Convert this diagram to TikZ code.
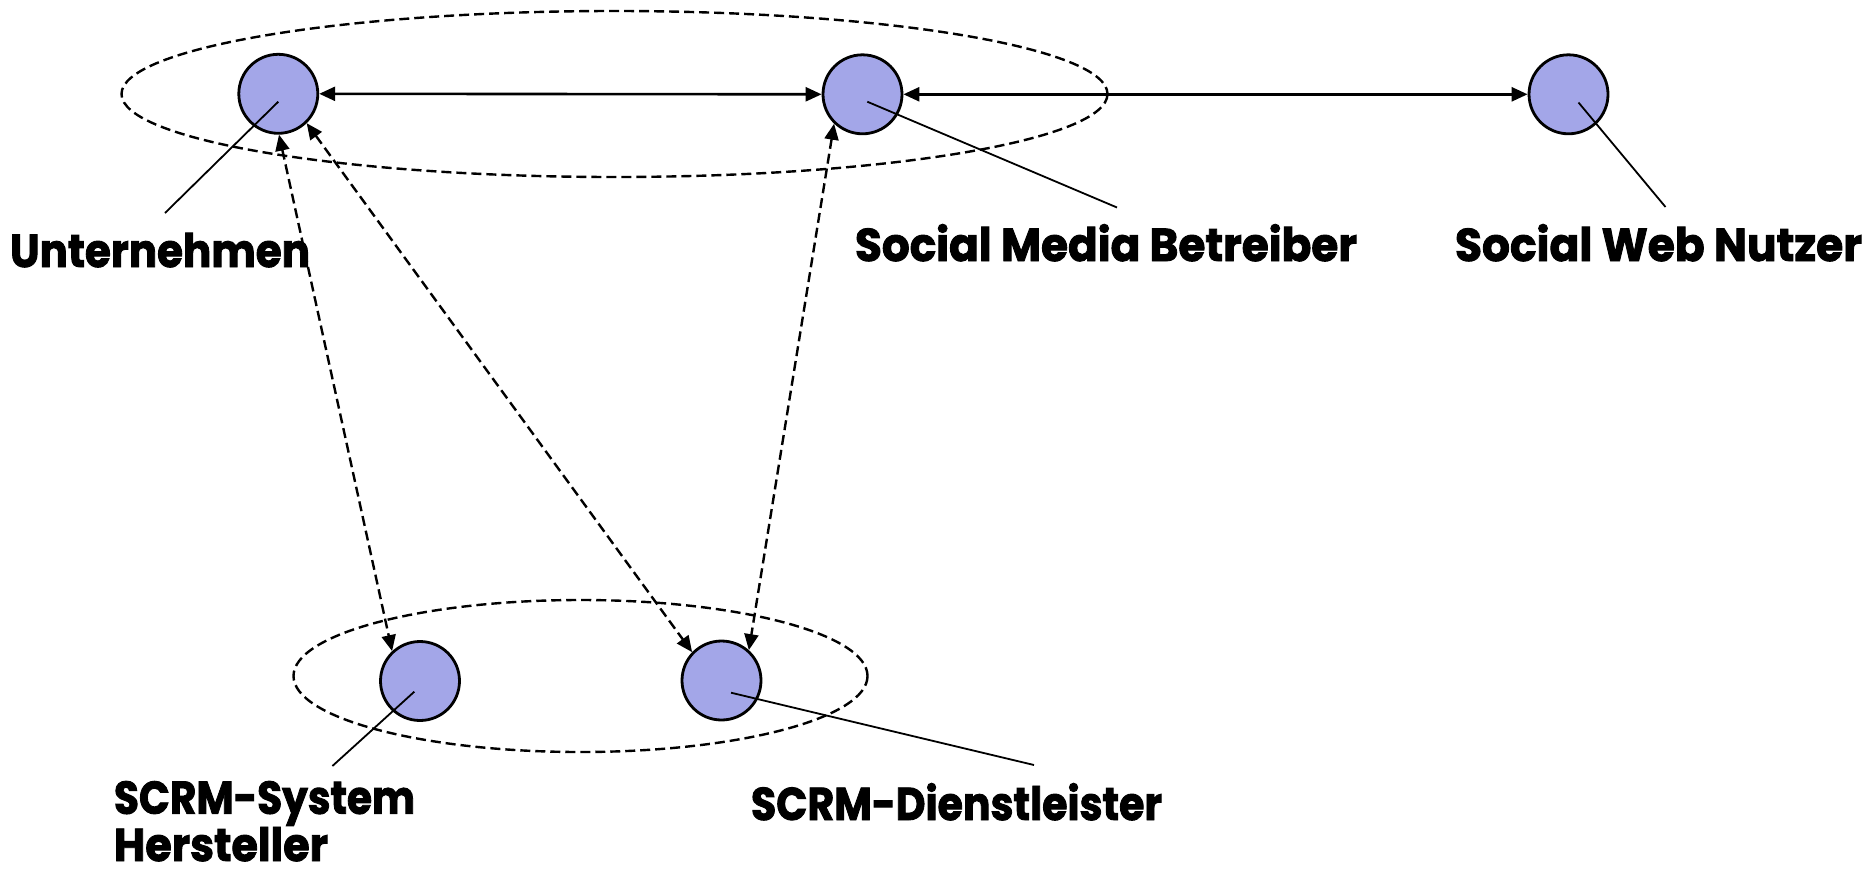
\documentclass[tikz,border=0pt]{standalone}
\usepackage{fontspec}
\setmainfont{Poppins}[BoldFeatures={FakeBold=2}]
\usetikzlibrary{arrows.meta}
\definecolor{actorfill}{RGB}{163,166,232}
% squeeze a label horizontally to a given width, keeping its height
\newcommand{\fitw}[2]{\resizebox{#1}{\height}{#2}}

\begin{document}
\begin{tikzpicture}[x=1pt,y=-1pt,
  actor/.style={circle, draw=black, line width=2.8pt, fill=actorfill,
                minimum size=79pt, inner sep=0pt},
  groupline/.style={draw=black, line width=2.4pt, dash pattern=on 10pt off 5pt},
  link/.style={line width=2.6pt, {Triangle[length=16pt,width=14pt]}-{Triangle[length=16pt,width=14pt]}},
  dlink/.style={link, line width=2.4pt, dash pattern=on 10pt off 5pt},
  pointer/.style={line width=1.8pt},
  lbl/.style={inner sep=0pt, outer sep=0pt, anchor=base west,
              font=\fontsize{46}{45}\selectfont\bfseries}]
\useasboundingbox (0,0) rectangle (1868,873);

% groups
\draw[groupline] (614.5,94) ellipse [x radius=493, y radius=83];
\draw[groupline] (580.5,676) ellipse [x radius=287, y radius=76];

% actors
\node[actor] (u) at (278.3,93.8) {};
\node[actor] (m) at (862.5,94.3) {};
\node[actor] (n) at (1568.5,94.3) {};
\node[actor] (s) at (420,681) {};
\node[actor] (d) at (721.5,680.5) {};

% relations
\draw[link] (u.east) -- (m.west);
\draw[link] (m.east) -- (n.west);
\draw[dlink] (u.-89) -- (s.133);
\draw[dlink] (u.-46) -- (d.136);
\draw[dlink] (m.-134) -- (d.48);

% labels
\node[lbl] (uT) at (10,267) {\fitw{300pt}{Unternehmen}};
\node[lbl] (mT) at (855,261) {\fitw{502pt}{Social Media Betreiber}};
\node[lbl] (nT) at (1455,261) {\fitw{407pt}{Social Web Nutzer}};
\node[lbl, align=left, text depth=0pt] (sT) at (114,861) {\fitw{301pt}{SCRM-System}\\\fitw{214pt}{Hersteller}};
\node[lbl] (dT) at (751,820) {\fitw{411pt}{SCRM-Dienstleister}};

% label pointers
\coordinate (u0) at (278.3,101.7);  \coordinate (u1) at (165,213);
\coordinate (m0) at (867.3,101.7);  \coordinate (m1) at (1117,207.5);
\coordinate (n0) at (1578.5,102.5); \coordinate (n1) at (1665.5,207);
\coordinate (s0) at (414.3,691.7);  \coordinate (s1) at (332.4,766);
\coordinate (d0) at (731,692.7);    \coordinate (d1) at (1034,765);
\draw[pointer] (u0) -- (u1);
\draw[pointer] (m0) -- (m1);
\draw[pointer] (n0) -- (n1);
\draw[pointer] (s0) -- (s1);
\draw[pointer] (d0) -- (d1);
\end{tikzpicture}
\end{document}
